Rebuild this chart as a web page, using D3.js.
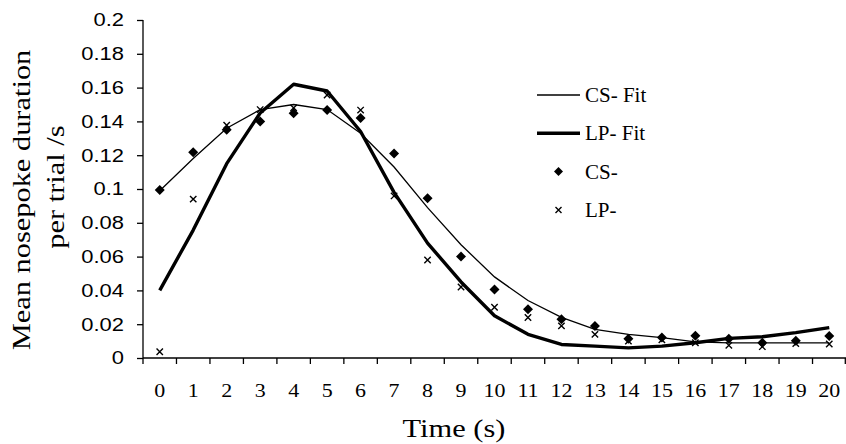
<!DOCTYPE html>
<html>
<head>
<meta charset="utf-8">
<script src="https://cdn.jsdelivr.net/npm/d3@7"></script>
<style>
  body { margin: 0; background: #fff; }
  svg { display: block; font-family: "Liberation Serif", "Times New Roman", serif; }
  .axis path, .axis line { stroke: #000; stroke-width: 1.3px; }
</style>
</head>
<body>
<div id="ChartContainer"></div>
<script>
// time bins (s)
const timeBins = ["0", "1", "2", "3", "4", "5", "6", "7", "8", "9", "10",
  "11", "12", "13", "14", "15", "16", "17", "18", "19", "20"]

// fitted curves
const csFit = [0.099, 0.118, 0.136, 0.147, 0.150, 0.147, 0.133, 0.113, 0.089, 0.067, 0.048,
  0.034, 0.024, 0.017, 0.014, 0.012, 0.0095, 0.009, 0.009, 0.009, 0.009]
const lpFit = [0.040, 0.0757, 0.115, 0.145, 0.162, 0.158, 0.134, 0.098, 0.068, 0.045, 0.025,
  0.014, 0.008, 0.007, 0.006, 0.007, 0.009, 0.0116, 0.0126, 0.015, 0.018]

// observed means
const csObs = [0.0994, 0.1217, 0.135, 0.140, 0.1448, 0.1467, 0.142, 0.121, 0.0945, 0.060, 0.0406,
  0.0288, 0.023, 0.019, 0.0114, 0.0122, 0.0132, 0.0114, 0.009, 0.0102, 0.013]
const lpObs = [0.0037, 0.094, 0.1377, 0.147, 0.148, 0.1556, 0.1467, 0.0959, 0.058, 0.042, 0.030,
  0.024, 0.019, 0.014, 0.010, 0.0107, 0.009, 0.0075, 0.0067, 0.0085, 0.0083]

const yTicks = [0, 0.02, 0.04, 0.06, 0.08, 0.1, 0.12, 0.14, 0.16, 0.18, 0.2]

const legendItems = [
  {label: "CS- Fit", kind: "thin"},
  {label: "LP- Fit", kind: "thick"},
  {label: "CS-", kind: "diamond"},
  {label: "LP-", kind: "cross"},
]

var 維 = {
  width: 846,
  height: 444,
  plot: {left: 143, right: 846, top: 20, bottom: 358},
  tickFont: 18,
  tickStretch: 1.22,
  titleFont: 26,
  titleStretch: 1.17,
  thin: 1.3,
  thick: 3.4,
  legend: {x0: 537, x1: 580, textX: 585, y: 95, step: 38.3, font: 21},
}

var svg = d3.select("#ChartContainer").append("svg")
  .attr("width", 維.width)
  .attr("height", 維.height)

var xScale = d3.scaleBand()
  .domain(timeBins)
  .range([維.plot.left, 維.plot.right])

var yScale = d3.scaleLinear()
  .domain([0, 0.2])
  .range([維.plot.bottom, 維.plot.top])

var cx = i => xScale(timeBins[i]) + xScale.bandwidth() / 2

// x axis: ticks sit on band edges, labels in band centres
var gx = svg.append("g")
  .attr("class", "axis")
  .attr("transform", `translate(0,${維.plot.bottom})`)
gx.append("line")
  .attr("x1", 維.plot.left)
  .attr("x2", 維.plot.right)
gx.selectAll(".edge")
  .data(d3.range(timeBins.length + 1))
  .join("line")
  .attr("class", "edge")
  .attr("x1", i => i < timeBins.length ? xScale(timeBins[i]) : 維.plot.right - 0.7)
  .attr("x2", i => i < timeBins.length ? xScale(timeBins[i]) : 維.plot.right - 0.7)
  .attr("y1", 0)
  .attr("y2", 6)
gx.selectAll(".lbl")
  .data(timeBins)
  .join("text")
  .attr("class", "lbl")
  .attr("text-anchor", "middle")
  .attr("font-size", 維.tickFont)
  .attr("transform", (d, i) => `translate(${cx(i)},39) scale(${維.tickStretch},1)`)
  .text(d => d)

// y axis
var gy = svg.append("g")
  .attr("class", "axis")
  .attr("transform", `translate(${維.plot.left},0)`)
  .call(d3.axisLeft(yScale)
    .tickValues(yTicks)
    .tickFormat(d => d3.format("")(+d.toFixed(2)))
    .tickSize(6)
    .tickSizeOuter(0))
gy.select(".domain").attr("d", `M0,${維.plot.top}V${維.plot.bottom}`)
gy.selectAll(".tick text")
  .attr("font-family", null)
  .attr("font-size", 維.tickFont)
  .attr("fill", "#000")
  .attr("x", null)
  .attr("dy", "0.33em")
  .attr("transform", `translate(-19,0) scale(${維.tickStretch},1)`)

// axis titles
svg.append("text")
  .attr("text-anchor", "middle")
  .attr("font-size", 維.titleFont)
  .attr("transform", `translate(454,437) scale(${維.titleStretch},1)`)
  .text("Time (s)")

var yTitle = [
  {text: "Mean nosepoke duration", x: 30, y: 200},
  {text: "per trial /s", x: 64, y: 187},
]
svg.selectAll(".ytitle")
  .data(yTitle)
  .join("text")
  .attr("class", "ytitle")
  .attr("text-anchor", "middle")
  .attr("font-size", 維.titleFont)
  .attr("transform", d => `translate(${d.x},${d.y}) rotate(-90) scale(${維.titleStretch},1)`)
  .text(d => d.text)

// fit lines
var line = d3.line()
  .x((d, i) => cx(i))
  .y(d => yScale(d))

svg.append("path")
  .datum(csFit)
  .attr("fill", "none")
  .attr("stroke", "#000")
  .attr("stroke-width", 維.thin)
  .attr("d", line)

svg.append("path")
  .datum(lpFit)
  .attr("fill", "none")
  .attr("stroke", "#000")
  .attr("stroke-width", 維.thick)
  .attr("stroke-linejoin", "round")
  .attr("d", line)

// markers
var diamond = "M0,-5L5,0L0,5L-5,0Z"
var cross = "M-3.2,-3.2L3.2,3.2M-3.2,3.2L3.2,-3.2"

svg.selectAll(".cs")
  .data(csObs)
  .join("path")
  .attr("class", "cs")
  .attr("d", diamond)
  .attr("fill", "#000")
  .attr("transform", (d, i) => `translate(${cx(i)},${yScale(d)})`)

svg.selectAll(".lp")
  .data(lpObs)
  .join("path")
  .attr("class", "lp")
  .attr("d", cross)
  .attr("fill", "none")
  .attr("stroke", "#000")
  .attr("stroke-width", 1.4)
  .attr("transform", (d, i) => `translate(${cx(i)},${yScale(d)})`)

// legend
var lg = 維.legend
var gLegend = svg.append("g")
var item = gLegend.selectAll(".item")
  .data(legendItems)
  .join("g")
  .attr("class", "item")
  .attr("transform", (d, i) => `translate(0,${lg.y + i * lg.step})`)

item.filter(d => d.kind === "thin" || d.kind === "thick")
  .append("line")
  .attr("x1", lg.x0)
  .attr("x2", lg.x1)
  .attr("stroke", "#000")
  .attr("stroke-width", d => d.kind === "thin" ? 維.thin : 維.thick)

item.filter(d => d.kind === "diamond")
  .append("path")
  .attr("d", "M0,-4.5L4.5,0L0,4.5L-4.5,0Z")
  .attr("transform", `translate(${(lg.x0 + lg.x1) / 2},0)`)

item.filter(d => d.kind === "cross")
  .append("path")
  .attr("d", "M-3,-3L3,3M-3,3L3,-3")
  .attr("stroke", "#000")
  .attr("stroke-width", 1.4)
  .attr("transform", `translate(${(lg.x0 + lg.x1) / 2},0)`)

item.append("text")
  .attr("x", lg.textX)
  .attr("dy", "0.33em")
  .attr("font-size", lg.font)
  .text(d => d.label)
</script>
</body>
</html>
